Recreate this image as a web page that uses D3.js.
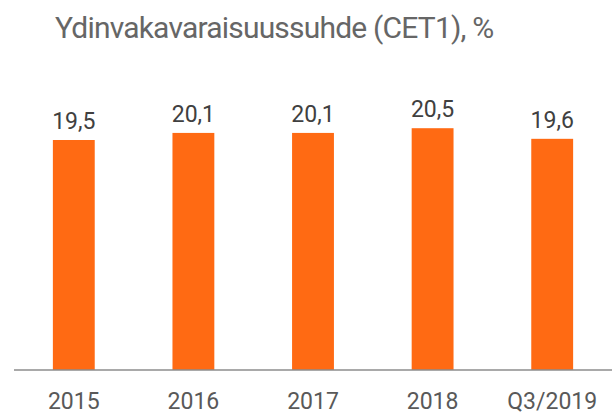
<!DOCTYPE html>
<html>
<head>
<meta charset="utf-8">
<script src="https://d3js.org/d3.v7.min.js"></script>
<style>
	body { margin: 0; background: #fff; }
	text { font-family: Roboto, "Noto Sans", sans-serif; }
</style>
</head>
<body>
<svg id="chart" width="614" height="414"></svg>
<script>
	var categories = ["2015", "2016", "2017", "2018", "Q3/2019"];
	var values = [19.5, 20.1, 20.1, 20.5, 19.6];
	var valueLabels = ["19,5", "20,1", "20,1", "20,5", "19,6"];
	var title = "Ydinvakavaraisuussuhde (CET1), %";

	var svg = d3.select("#chart");
	var baseY = 370;

	var x = d3.scaleBand()
		.domain(categories)
		.range([14, 612])
		.paddingInner(0.65)
		.paddingOuter(0.325);

	// scale so that 19.5 -> y 140
	var y = d3.scaleLinear()
		.domain([0, 19.5 * baseY / (baseY - 140)])
		.range([baseY, 0]);

	svg.append("text")
		.attr("x", 55)
		.attr("y", 38)
		.attr("fill", "#666")
		.style("font-size", "30px")
		.style("letter-spacing", "-0.8px")
		.text(title);

	svg.selectAll("rect.bar")
		.data(values)
		.enter().append("rect")
		.attr("class", "bar")
		.attr("x", function(d, i) { return x(categories[i]); })
		.attr("width", x.bandwidth())
		.attr("y", function(d) { return y(d); })
		.attr("height", function(d) { return baseY - y(d); })
		.attr("fill", "#ff6a13");

	svg.selectAll("text.val")
		.data(values)
		.enter().append("text")
		.attr("class", "val")
		.attr("x", function(d, i) { return x(categories[i]) + x.bandwidth() / 2; })
		.attr("y", function(d) { return y(d) - 11; })
		.attr("text-anchor", "middle")
		.attr("fill", "#404040")
		.style("font-size", "23px")
		.text(function(d, i) { return valueLabels[i]; });

	// axis
	var axis = svg.append("g")
		.attr("transform", "translate(0," + baseY + ")")
		.call(d3.axisBottom(x).tickSize(0).tickPadding(23));
	axis.select(".domain").remove();
	axis.append("line")
		.attr("x1", 14).attr("x2", 612)
		.attr("stroke", "#8c8c8c").attr("stroke-width", 1.5);
	axis.selectAll(".tick text")
		.attr("fill", "#595959")
		.style("font-size", "23px")
		.style("font-family", "Roboto, 'Noto Sans', sans-serif");
</script>
</body>
</html>
